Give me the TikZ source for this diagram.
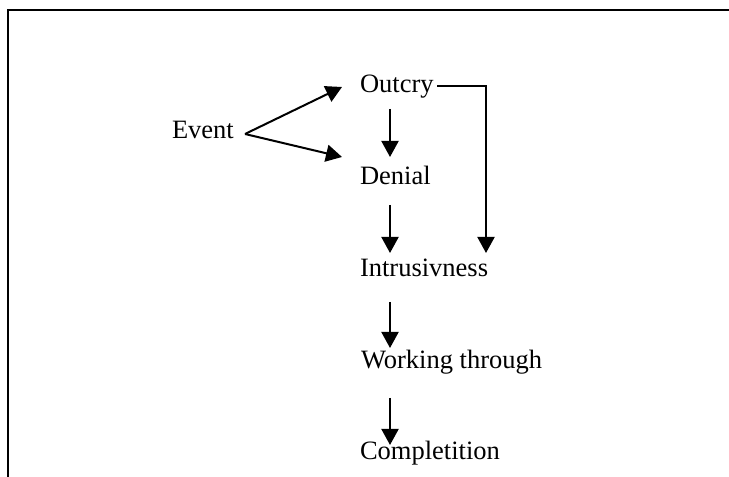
\documentclass[tikz,border=0pt]{standalone}
\usepackage{fontspec}
\setmainfont{Liberation Serif}
\usetikzlibrary{arrows.meta}
\tikzset{
  lbl/.style={anchor=base west, inner sep=0pt, outer sep=0pt, font=\fontsize{26.5bp}{30bp}\selectfont},
  arr/.style={line width=2bp, -{Triangle[length=16bp,width=17bp]}},
  frame/.style={line width=2.2bp}
}
\begin{document}
\begin{tikzpicture}[x=1bp,y=1bp]
\useasboundingbox (0,0) rectangle (729,477);
\draw[frame] (729,467) -- (8,467) -- (8,0);
\node[lbl] (event) at (172,338) {Event};
\node[lbl] (outcry) at (360,384) {Outcry};
\node[lbl] (denial) at (360,292) {Denial};
\node[lbl] (intr) at (360,200) {Intrusivness};
\node[lbl] (work) at (361,108) {Working through};
\node[lbl] (compl) at (360,17) {Completition};
\draw[arr] ([shift={(73bp,5bp)}]event.base west) -- ([shift={(-18bp,6bp)}]outcry.base west);
\draw[arr] ([shift={(73bp,5bp)}]event.base west) -- ([shift={(-18bp,28bp)}]denial.base west);
\draw[arr] ([shift={(30bp,-16bp)}]outcry.base west) -- ([shift={(30bp,28bp)}]denial.base west);
\draw[arr] ([shift={(30bp,-20bp)}]denial.base west) -- ([shift={(30bp,24bp)}]intr.base west);
\draw[arr] ([shift={(30bp,-25bp)}]intr.base west) -- ([shift={(29bp,21bp)}]work.base west);
\draw[arr] ([shift={(29bp,-29bp)}]work.base west) -- ([shift={(30bp,15bp)}]compl.base west);
\draw[arr] ([shift={(77bp,7bp)}]outcry.base west) -| ([shift={(126bp,24bp)}]intr.base west);
\end{tikzpicture}
\end{document}
